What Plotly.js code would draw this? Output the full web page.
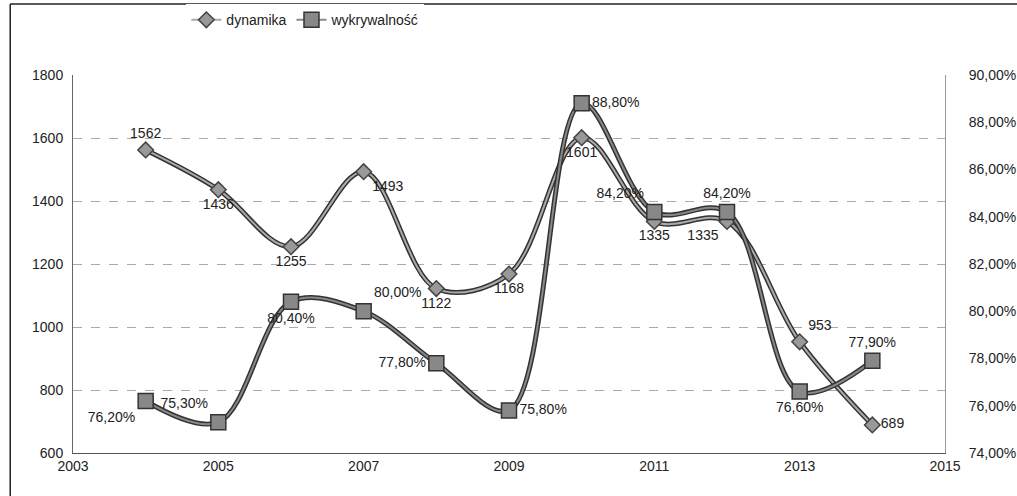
<!DOCTYPE html>
<html><head><meta charset="utf-8">
<script src="https://cdn.plot.ly/plotly-3.0.1.min.js"></script>
<style>body{margin:0;background:#fff}#c{width:1017px;height:496px}</style>
</head><body><div id="c"></div>
<script>
const years = [2004,2005,2006,2007,2008,2009,2010,2011,2012,2013,2014];
const dynamika = [1562,1436,1255,1493,1122,1168,1601,1335,1335,953,689];
const wykrywalnosc = [76.2,75.3,80.4,80.0,77.8,75.8,88.8,84.2,84.2,76.6,77.9];
const dynPos = ['top center','bottom center','bottom center','bottom right','bottom center','bottom center','bottom center','bottom center','bottom left','top right','middle right'];
const wykPos = ['bottom left','top left','bottom center','top right','middle left','middle right','middle right','top left','top center','bottom center','top center'];

const fnt = {family:'Liberation Sans, Arial, sans-serif', size:14, color:'#222'};
const wykText = wykrywalnosc.map(v => v.toFixed(2).replace('.',',') + '%');

const traces = [
  {x:years, y:dynamika, mode:'lines', line:{shape:'spline', smoothing:1, color:'#333', width:5}, showlegend:false, hoverinfo:'skip'},
  {x:years, y:dynamika, name:'dynamika', mode:'lines+markers+text', text:dynamika.map(String), textposition:dynPos,
   textfont:fnt, line:{shape:'spline', smoothing:1, color:'#aaa', width:2},
   marker:{symbol:'diamond', size:12, color:'#999', line:{color:'#444', width:1.5}}},
  {x:years, y:wykrywalnosc, yaxis:'y2', mode:'lines', line:{shape:'spline', smoothing:1, color:'#333', width:5}, showlegend:false, hoverinfo:'skip'},
  {x:years, y:wykrywalnosc, yaxis:'y2', name:'wykrywalność', mode:'lines+markers+text', text:wykText, textposition:wykPos,
   textfont:fnt, line:{shape:'spline', smoothing:1, color:'#888', width:2},
   marker:{symbol:'square', size:15, color:'#888', line:{color:'#333', width:1.5}}}
];

const layout = {
  width:1017, height:496,
  margin:{l:73, r:72, t:75, b:43, autoexpand:false},
  paper_bgcolor:'#fff', plot_bgcolor:'#fff',
  separators:', ',
  font:fnt,
  showlegend:true,
  legend:{orientation:'h', x:0.13, y:1.145, xanchor:'left', yanchor:'middle', itemwidth:30,
    font:{family:fnt.family, size:14, color:'#222'}},
  xaxis:{range:[2003,2015], tickvals:[2003,2005,2007,2009,2011,2013,2015], showgrid:false, zeroline:false,
    showline:true, linecolor:'#555', ticks:'', tickfont:fnt},
  yaxis:{range:[600,1800], dtick:200, showgrid:true, gridcolor:'#aaa', griddash:'dash', gridwidth:1, zeroline:false,
    showline:true, linecolor:'#666', tickfont:fnt, ticklabelstandoff:6},
  yaxis2:{range:[74,90], dtick:2, overlaying:'y', side:'right', showgrid:false, zeroline:false,
    showline:true, linecolor:'#999', tickformat:'.2f', ticksuffix:'%', tickfont:fnt, ticklabelstandoff:20},
  shapes:[
    {type:'line', xref:'paper', yref:'paper', x0:-0.072, x1:1.1, y0:1.188, y1:1.188, line:{color:'#222', width:1.5}},
    {type:'line', xref:'paper', yref:'paper', x0:-0.072, x1:-0.072, y0:1.188, y1:-0.12, line:{color:'#222', width:1.5}}
  ]
};
Plotly.newPlot('c', traces, layout, {displayModeBar:false, staticPlot:true});
</script></body></html>
